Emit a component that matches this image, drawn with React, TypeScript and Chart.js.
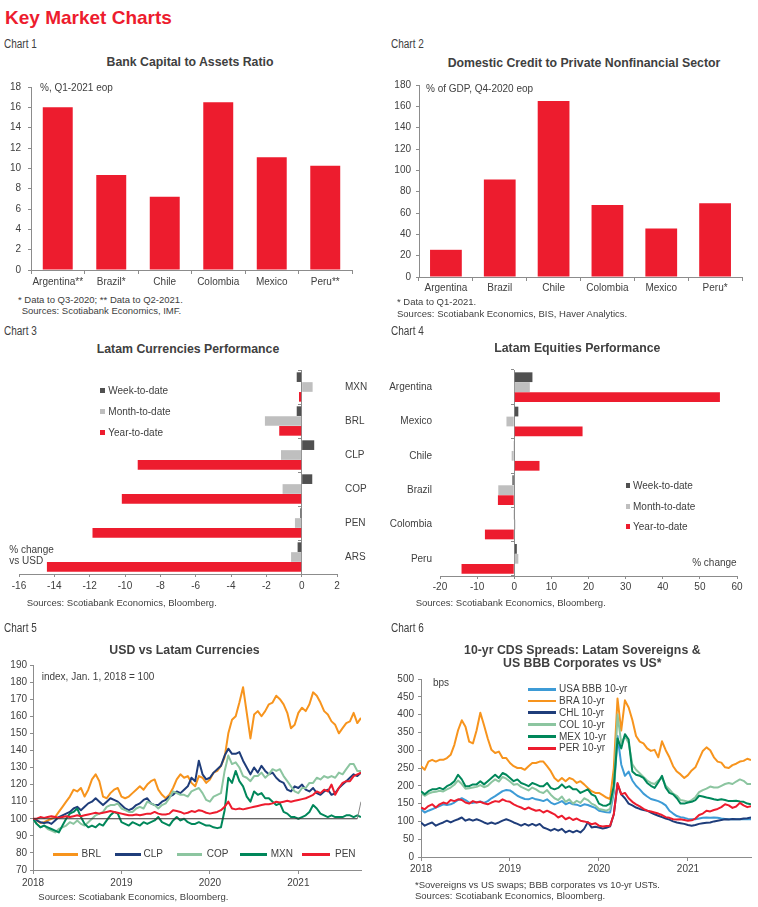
import React, { useEffect, useRef } from "react";
import { Chart, registerables } from "chart.js";

Chart.register(...registerables);

const FONT = "'Liberation Sans', Arial, Helvetica, sans-serif";
const TXT = "#404040";
const AXIS = "#8c8c8c";
const RED = "#ED1C2E";
const DARK = "#505050";
const LIGHT = "#BFBFBF";
const ORANGE = "#F7941D";
const NAVY = "#1F3D7A";
const LGREEN = "#8CC5A0";
const GREEN = "#00875A";
const BLUE = "#3D9BD6";

Chart.defaults.font.family = FONT;

// ---------- Chart 1 ----------
const C1_LABELS = ["Argentina**", "Brazil*", "Chile", "Colombia", "Mexico", "Peru**"];
const C1_VALUES = [16.0, 9.35, 7.2, 16.5, 11.1, 10.25];

// ---------- Chart 2 ----------
const C2_LABELS = ["Argentina", "Brazil", "Chile", "Colombia", "Mexico", "Peru*"];
const C2_VALUES = [25.5, 91.4, 164.9, 67.4, 45.5, 69.2];

// ---------- Chart 3 ----------
const C3_LABELS = ["MXN", "BRL", "CLP", "COP", "PEN", "ARS"];
const C3_WTD = [-0.28, -0.28, 0.71, 0.6, -0.08, -0.23];
const C3_MTD = [0.62, -2.08, -1.17, -1.08, -0.38, -0.6];
const C3_YTD = [-0.15, -1.27, -9.28, -10.18, -11.84, -14.42];

// ---------- Chart 4 ----------
const C4_LABELS = ["Argentina", "Mexico", "Chile", "Brazil", "Colombia", "Peru"];
const C4_WTD = [4.9, 1.1, -0.1, -0.5, -0.1, 0.7];
const C4_MTD = [4.2, -2.1, -0.7, -4.3, 0.3, 1.1];
const C4_YTD = [55.4, 18.4, 6.8, -4.4, -7.9, -14.2];

// ---------- Time axis (half-month steps from Jan 2018) ----------
const HALF_MONTHS = Array.from({ length: 90 }, (_, i) => i / 2);
const YEAR_TICKS = [0, 12, 24, 36];
const YEAR_LABELS = ["2018", "2019", "2020", "2021"];

// ---------- Chart 5 (index, Jan 1 2018 = 100) ----------
const BRL = [
  100, 99, 97.5, 98, 99, 100, 101, 104, 107, 110, 113, 117, 116, 118, 113, 117, 123, 126, 122, 113, 112, 115, 117, 118,
  113, 112, 113, 115, 117, 119, 117, 120, 122, 123, 117, 114, 112, 114, 118, 123, 126, 124, 125, 121, 119, 125, 124, 121,
  123, 127, 128, 131, 136, 150, 158, 160, 168, 177, 162, 147, 161, 163, 160, 163, 167, 168, 172, 170, 167, 162, 153, 155,
  162, 165, 163, 167, 174, 172, 168, 163, 161, 157, 155, 150, 153, 156, 157, 162, 156, 159,
];
const CLP = [
  100, 99, 98, 97.5, 98, 97, 99, 101, 102, 103, 104, 106, 107, 105, 107, 109, 110, 112, 110, 108, 110, 112, 111, 110,
  108, 106, 105, 106, 108, 109, 111, 112, 109, 108, 108, 110, 111, 113, 114, 116, 115, 117, 119, 124, 122, 134, 126, 123,
  124, 127, 129, 131, 137, 141, 138, 138, 139, 134, 130, 126, 130, 127, 131, 128, 126, 127, 124, 122, 121, 117, 116, 119,
  118, 120, 117, 116, 118, 115, 114, 116, 117, 114, 115, 118, 120, 122, 124, 126, 125, 127,
];
const COP = [
  100, 97, 95, 96, 94, 93, 92, 94, 95, 96, 98, 97, 99, 97, 96, 98, 100, 102, 103, 104, 107, 108, 108, 109,
  106, 105, 104, 104, 106, 107, 106, 110, 109, 108, 106, 108, 109, 112, 116, 115, 114, 114, 113, 116, 117, 118, 115, 111,
  110, 113, 114, 115, 128, 137, 132, 133, 130, 125, 124, 122, 125, 125, 127, 124, 126, 129, 128, 129, 125, 122, 119, 116,
  115, 118, 118, 121, 121, 124, 123, 125, 124, 125, 124, 127, 126, 129, 132, 132, 128, 128,
];
const MXN = [
  100, 97, 95, 96, 95, 94, 93, 92, 96, 100, 103, 104, 106, 101, 97, 95, 96, 95, 97, 96, 99, 102, 104, 103,
  98, 97, 96, 98, 97, 96, 98, 97, 98, 99, 101, 98, 97, 96, 99, 101, 99, 100, 98, 97, 97, 98, 97, 96,
  96, 95, 94.5, 95, 105, 124, 121, 128, 122, 119, 113, 110, 116, 114, 115, 112, 112, 110, 108, 109, 104, 103, 101, 101,
  100, 101, 102, 104, 108, 106, 103, 102, 101, 102, 101, 101, 101, 102, 102, 101, 102, 101,
];
const PEN = [
  100, 100, 101, 100.5, 101, 101.5, 101, 100.5, 101, 101.5, 101, 101.5, 102, 101.5, 102, 102.5, 103, 103.5, 103, 103.5, 104, 104.5, 104, 103.5,
  103, 102.5, 102, 102, 102.5, 102, 102.5, 103, 103, 104, 103, 102.5, 102.5, 103, 105, 104.5, 104, 103, 103.5, 104.5, 104, 105, 104.5, 103.5,
  103, 103.5, 104, 105, 107, 110, 106, 105.5, 106, 105.5, 106, 106.5, 107, 107.5, 108, 108.5, 108.5, 109, 110, 109.5, 110, 110.5, 110, 110.5,
  111, 111.5, 112, 113, 114, 116, 115, 117, 116, 120, 114, 118, 121, 122, 122, 125, 126, 127,
];
const BASE_X = [0, 44];
const BASE_Y = [100, 100];
const TAIL_X = [44, 44.5];
const TAIL_Y = [100, 110];

// ---------- Chart 6 (bps) ----------
const USA = [
  134, 125, 130, 134, 139, 143, 148, 146, 148, 153, 160, 165, 160, 153, 152, 154, 156, 152, 157, 165, 171, 178, 185, 188,
  187, 180, 172, 167, 163, 162, 166, 162, 160, 157, 162, 153, 148, 152, 157, 148, 153, 148, 147, 143, 148, 146, 142, 138,
  130, 128, 126, 125, 180, 340, 260, 228, 240, 215, 200, 190, 178, 170, 163, 160, 157, 152, 145, 130, 122, 115, 112, 110,
  107, 106, 106, 108, 110, 111, 110, 111, 110, 108, 107, 106, 107, 106, 106, 107, 106, 106,
];
const BRA = [
  255, 245, 268, 273, 268, 273, 273, 278, 287, 315, 356, 384, 366, 324, 319, 356, 405, 370, 333, 301, 292, 296, 278, 278,
  264, 255, 250, 250, 245, 255, 264, 264, 268, 268, 255, 241, 222, 213, 222, 213, 222, 218, 208, 213, 204, 194, 185, 180,
  180, 174, 167, 163, 250, 445, 355, 440, 420, 385, 340, 324, 319, 305, 298, 301, 280, 325, 300, 280, 255, 240, 232, 222,
  230, 243, 252, 275, 298, 308, 300, 280, 268, 265, 252, 250, 258, 262, 268, 270, 276, 272,
];
const CHL = [
  97, 88, 93, 97, 88, 93, 97, 102, 97, 102, 106, 111, 102, 106, 102, 106, 102, 97, 93, 97, 93, 97, 102, 106,
  102, 97, 93, 88, 93, 88, 93, 88, 93, 83, 79, 74, 79, 74, 79, 69, 74, 69, 74, 69, 79, 98, 83, 85,
  83, 80, 82, 86, 120, 205, 176, 165, 150, 145, 139, 135, 132, 130, 125, 120, 116, 112, 108, 105, 100, 97, 95, 93,
  90, 88, 90, 93, 95, 96, 97, 100, 102, 104, 106, 105, 107, 106, 106, 108, 109, 111,
];
const COL = [
  180, 172, 178, 182, 183, 186, 184, 190, 195, 203, 215, 205, 192, 193, 195, 197, 202, 196, 200, 210, 218, 212, 225, 220,
  212, 203, 205, 197, 192, 187, 195, 190, 183, 180, 188, 175, 165, 160, 170, 155, 162, 150, 158, 152, 165, 160, 150, 145,
  135, 133, 130, 135, 190, 400, 320, 340, 320, 260, 245, 235, 225, 215, 208, 205, 215, 222, 200, 190, 178, 172, 160, 158,
  155, 160, 168, 182, 188, 192, 198, 195, 195, 200, 205, 208, 205, 212, 218, 214, 205, 205,
];
const MEX = [
  185, 176, 185, 190, 190, 194, 190, 199, 204, 213, 231, 218, 199, 199, 204, 204, 213, 204, 213, 222, 231, 222, 236, 231,
  222, 213, 218, 208, 204, 199, 208, 204, 199, 199, 208, 194, 190, 194, 204, 194, 199, 190, 190, 180, 185, 190, 176, 171,
  150, 145, 144, 150, 200, 333, 305, 345, 330, 240, 231, 228, 222, 208, 200, 194, 210, 228, 195, 180, 176, 165, 150, 150,
  153, 155, 160, 172, 170, 167, 165, 162, 160, 162, 160, 157, 157, 158, 156, 155, 150, 148,
];
const PER = [
  139, 134, 143, 148, 139, 148, 153, 150, 160, 157, 162, 160, 153, 150, 157, 153, 155, 151, 148, 153, 157, 155, 162, 157,
  155, 148, 143, 139, 134, 139, 134, 130, 132, 125, 130, 125, 120, 111, 116, 106, 111, 104, 108, 102, 100, 97, 92, 95,
  88, 86, 87, 88, 120, 208, 176, 180, 165, 155, 148, 142, 135, 130, 128, 125, 122, 118, 112, 110, 106, 105, 106, 104,
  102, 103, 108, 118, 122, 130, 128, 132, 135, 140, 148, 145, 138, 142, 152, 145, 140, 143,
];

// ---------- helpers ----------
const tickFont = { family: FONT, size: 10 };
const border = { color: AXIS, width: 1 };
const grid = (tl: number) => ({ drawOnChartArea: false, drawTicks: true, tickLength: tl, color: AXIS, lineWidth: 1 });
const noGrid = { display: false, drawTicks: false };
const fixW = (w: number) => (s: any) => { s.width = w; };
const fixH = (h: number) => (s: any) => { s.height = h; };
const baseOpts = (padding: any) => ({
  animation: false,
  responsive: false,
  events: [],
  layout: { padding },
  plugins: { legend: { display: false }, tooltip: { enabled: false } },
});

function columnConfig(labels: string[], values: number[], yMax: number, step: number, yw: number, barPct: number, xPad: number, yPad: number) {
  return {
    type: "bar",
    data: { labels, datasets: [{ data: values, backgroundColor: RED, barPercentage: barPct, categoryPercentage: 1 }] },
    options: {
      ...baseOpts({ top: 8, right: 8, left: 0, bottom: 0 }),
      scales: {
        x: {
          offset: true,
          grid: { ...grid(4), offset: true },
          border,
          ticks: { font: tickFont, color: TXT, padding: xPad, maxRotation: 0, autoSkip: false },
          afterFit: fixH(22),
        },
        y: {
          min: 0,
          max: yMax,
          grid: grid(3),
          border,
          ticks: { stepSize: step, font: tickFont, color: TXT, padding: yPad },
          afterFit: fixW(yw),
        },
      },
    },
  };
}

function perfConfig(labels: string[], wtd: number[], mtd: number[], ytd: number[], min: number, max: number, step: number, side: "left" | "right", yw: number, padding: any, xPad: number) {
  return {
    type: "bar",
    data: {
      labels,
      datasets: [
        { label: "Week-to-date", data: wtd, backgroundColor: DARK, barPercentage: 0.98, categoryPercentage: 0.87, yAxisID: "y" },
        { label: "Month-to-date", data: mtd, backgroundColor: LIGHT, barPercentage: 0.98, categoryPercentage: 0.87, yAxisID: "y" },
        { label: "Year-to-date", data: ytd, backgroundColor: RED, barPercentage: 0.98, categoryPercentage: 0.87, yAxisID: "y" },
      ],
    },
    options: {
      ...baseOpts(padding),
      indexAxis: "y",
      scales: {
        x: {
          type: "linear",
          min,
          max,
          grid: grid(3),
          border,
          ticks: { stepSize: step, font: tickFont, color: TXT, padding: xPad },
          afterFit: fixH(22),
        },
        y: {
          type: "category",
          position: side,
          offset: true,
          grid: noGrid,
          border: { display: false },
          ticks: { font: tickFont, color: TXT, padding: 8, crossAlign: "near" },
          afterFit: fixW(yw),
        },
        yz: {
          type: "category",
          position: { x: 0 },
          offset: true,
          grid: { ...grid(3), offset: true },
          border,
          ticks: { display: false },
        },
      },
    },
  };
}

const pts = (xs: number[], ys: number[]) => xs.map((x, i) => ({ x, y: ys[i] }));
const lineDs = (ys: number[], color: string, order: number) => ({
  data: pts(HALF_MONTHS, ys),
  borderColor: color,
  backgroundColor: color,
  borderWidth: 2,
  pointRadius: 0,
  tension: 0,
  borderJoinStyle: "round",
  order,
});

function timeConfig(datasets: any[], yMin: number, yMax: number, step: number, yw: number, xPad: number, yPad: number) {
  return {
    type: "line",
    data: { datasets },
    options: {
      ...baseOpts({ top: 8, right: 4, left: 0, bottom: 0 }),
      scales: {
        x: {
          type: "linear",
          min: 0,
          max: 44.5,
          grid: grid(4),
          border,
          afterBuildTicks: (s: any) => { s.ticks = YEAR_TICKS.map((v) => ({ value: v })); },
          ticks: {
            font: tickFont,
            color: TXT,
            padding: xPad,
            maxRotation: 0,
            autoSkip: false,
            callback: (v: any) => { const i = YEAR_TICKS.indexOf(Number(v)); return i >= 0 ? YEAR_LABELS[i] : ""; },
          },
          afterFit: fixH(22),
        },
        y: {
          min: yMin,
          max: yMax,
          grid: grid(3),
          border,
          ticks: { stepSize: step, font: tickFont, color: TXT, padding: yPad },
          afterFit: fixW(yw),
        },
      },
    },
  };
}

// ---------- components ----------
function ChartBox({ x, y, w, h, make }: { x: number; y: number; w: number; h: number; make: () => any }) {
  const ref = useRef<HTMLCanvasElement | null>(null);
  useEffect(() => {
    if (!ref.current) return;
    const chart = new Chart(ref.current, make());
    return () => chart.destroy();
  }, []);
  return <canvas ref={ref} width={w} height={h} style={{ position: "absolute", left: x, top: y, width: w, height: h }} />;
}

function Txt({ x, y, s = 10, b = false, c = TXT, a = "l", n = false, children }: { x: number; y: number; s?: number; b?: boolean; c?: string; a?: string; n?: boolean; children: React.ReactNode }) {
  let tx = a === "c" ? "translateX(-50%)" : a === "r" ? "translateX(-100%)" : "";
  if (n) tx += " scaleX(0.8)";
  return (
    <div
      style={{
        position: "absolute",
        left: x,
        top: y - s * 0.6,
        fontSize: s,
        lineHeight: `${s * 1.2}px`,
        fontWeight: b ? 700 : 400,
        color: c,
        fontFamily: FONT,
        whiteSpace: "nowrap",
        transform: tx || undefined,
        transformOrigin: "left center",
      }}
    >
      {children}
    </div>
  );
}

function Sq({ x, y, c, s = 4.5 }: { x: number; y: number; c: string; s?: number }) {
  return <div style={{ position: "absolute", left: x, top: y - s / 2, width: s, height: s, background: c }} />;
}

function Ln({ x1, x2, y, c }: { x1: number; x2: number; y: number; c: string }) {
  return <div style={{ position: "absolute", left: x1, top: y - 1.25, width: x2 - x1, height: 2.5, background: c }} />;
}

export default function App() {
  return (
    <div style={{ position: "absolute", left: 0, top: 0, width: 758, height: 907, background: "#fff", overflow: "hidden", fontFamily: FONT }}>
      <Txt x={5} y={18.3} s={19} b c={RED}>Key Market Charts</Txt>

      {/* Chart 1 */}
      <Txt x={4} y={44.7} s={12.5} n>Chart 1</Txt>
      <Txt x={190} y={62.3} s={12.3} b a="c">Bank Capital to Assets Ratio</Txt>
      <ChartBox x={0} y={74} w={360} h={218} make={() => columnConfig(C1_LABELS, C1_VALUES, 18, 2, 31, 0.56, 2, 7)} />
      <Txt x={40} y={88.3}>%, Q1-2021 eop</Txt>
      <Txt x={18} y={300} s={9.5}>* Data to Q3-2020; ** Data to Q2-2021.</Txt>
      <Txt x={21.7} y={310.3} s={9.5}>Sources: Scotiabank Economics, IMF.</Txt>

      {/* Chart 2 */}
      <Txt x={390.7} y={44.7} s={12.5} n>Chart 2</Txt>
      <Txt x={584} y={63.3} s={12.3} b a="c">Domestic Credit to Private Nonfinancial Sector</Txt>
      <ChartBox x={379} y={74} w={371} h={225} make={() => columnConfig(C2_LABELS, C2_VALUES, 180, 20, 40, 0.59, 1, 5)} />
      <Txt x={426} y={89.3}>% of GDP, Q4-2020 eop</Txt>
      <Txt x={397} y={301.7} s={9.5}>* Data to Q1-2021.</Txt>
      <Txt x={397} y={313.3} s={9.5}>Sources: Scotiabank Economics, BIS, Haver Analytics.</Txt>

      {/* Chart 3 */}
      <Txt x={4} y={331.7} s={12.5} n>Chart 3</Txt>
      <Txt x={188} y={349.3} s={12.3} b a="c">Latam Currencies Performance</Txt>
      <ChartBox x={0} y={356} w={377} h={240} make={() => perfConfig(C3_LABELS, C3_WTD, C3_MTD, C3_YTD, -16, 2, 2, "right", 40, { top: 6, right: 0, left: 19, bottom: 0 }, 3.5)} />
      <Sq x={100} y={390.7} c={DARK} />
      <Txt x={108.3} y={390.7}>Week-to-date</Txt>
      <Sq x={100} y={411.7} c={LIGHT} />
      <Txt x={108.3} y={411.7}>Month-to-date</Txt>
      <Sq x={100} y={432.7} c={RED} />
      <Txt x={108.3} y={432.7}>Year-to-date</Txt>
      <Txt x={9.3} y={550}>% change</Txt>
      <Txt x={9.3} y={560.7}>vs USD</Txt>
      <Txt x={26.7} y={602.7} s={9.5}>Sources: Scotiabank Economics, Bloomberg.</Txt>

      {/* Chart 4 */}
      <Txt x={390.7} y={331.7} s={12.5} n>Chart 4</Txt>
      <Txt x={577.3} y={348.3} s={12.3} b a="c">Latam Equities Performance</Txt>
      <ChartBox x={380} y={356} w={367} h={242} make={() => perfConfig(C4_LABELS, C4_WTD, C4_MTD, C4_YTD, -20, 60, 10, "left", 60, { top: 6, right: 10, left: 0, bottom: 0 }, 2.7)} />
      <Sq x={625.7} y={485.7} c={DARK} />
      <Txt x={633} y={485.7}>Week-to-date</Txt>
      <Sq x={625.7} y={506.7} c={LIGHT} />
      <Txt x={633} y={506.7}>Month-to-date</Txt>
      <Sq x={625.7} y={526.7} c={RED} />
      <Txt x={633} y={526.7}>Year-to-date</Txt>
      <Txt x={736.7} y={562.7} a="r">% change</Txt>
      <Txt x={415.7} y={602.7} s={9.5}>Sources: Scotiabank Economics, Bloomberg.</Txt>

      {/* Chart 5 */}
      <Txt x={4} y={628.3} s={12.5} n>Chart 5</Txt>
      <Txt x={184.5} y={650.7} s={12.3} b a="c">USD vs Latam Currencies</Txt>
      <ChartBox
        x={0}
        y={656}
        w={365}
        h={236}
        make={() =>
          timeConfig(
            [
              { data: pts(BASE_X, BASE_Y), borderColor: "#333333", borderWidth: 1, pointRadius: 0, order: 0 },
              { data: pts(TAIL_X, TAIL_Y), borderColor: "#888888", borderWidth: 1, pointRadius: 0, order: 0 },
              lineDs(PEN, RED, 1),
              lineDs(MXN, GREEN, 2),
              lineDs(COP, LGREEN, 3),
              lineDs(CLP, NAVY, 4),
              lineDs(BRL, ORANGE, 5),
            ],
            70,
            190,
            10,
            33,
            3.3,
            3
          )
        }
      />
      <Txt x={41.7} y={676.7}>index, Jan. 1, 2018 = 100</Txt>
      <Ln x1={52.7} x2={78.3} y={854.3} c={ORANGE} />
      <Txt x={81.5} y={854.3}>BRL</Txt>
      <Ln x1={115} x2={140.5} y={854.3} c={NAVY} />
      <Txt x={143.5} y={854.3}>CLP</Txt>
      <Ln x1={176.7} x2={202} y={854.3} c={LGREEN} />
      <Txt x={206.7} y={854.3}>COP</Txt>
      <Ln x1={240} x2={266.7} y={854.3} c={GREEN} />
      <Txt x={270.7} y={854.3}>MXN</Txt>
      <Ln x1={301.7} x2={330} y={854.3} c={RED} />
      <Txt x={335} y={854.3}>PEN</Txt>
      <Txt x={38.3} y={896.7} s={9.5}>Sources: Scotiabank Economics, Bloomberg.</Txt>

      {/* Chart 6 */}
      <Txt x={390.7} y={628.3} s={12.5} n>Chart 6</Txt>
      <Txt x={582.3} y={650} s={12.3} b a="c">10-yr CDS Spreads: Latam Sovereigns &amp;</Txt>
      <Txt x={582.3} y={663.7} s={12.3} b a="c">US BBB Corporates vs US*</Txt>
      <ChartBox
        x={381}
        y={669}
        w={374}
        h={210}
        make={() =>
          timeConfig(
            [
              lineDs(PER, RED, 1),
              lineDs(MEX, GREEN, 2),
              lineDs(COL, LGREEN, 3),
              lineDs(CHL, NAVY, 4),
              lineDs(BRA, ORANGE, 5),
              lineDs(USA, BLUE, 6),
            ],
            0,
            500,
            50,
            40,
            2.3,
            4
          )
        }
      />
      <Txt x={433} y={683.3}>bps</Txt>
      <Ln x1={528.3} x2={555.7} y={689.3} c={BLUE} />
      <Txt x={559} y={689.3}>USA BBB 10-yr</Txt>
      <Ln x1={528.3} x2={555.7} y={700.9} c={ORANGE} />
      <Txt x={559} y={700.9}>BRA 10-yr</Txt>
      <Ln x1={528.3} x2={555.7} y={712.5} c={NAVY} />
      <Txt x={559} y={712.5}>CHL 10-yr</Txt>
      <Ln x1={528.3} x2={555.7} y={724.5} c={LGREEN} />
      <Txt x={559} y={724.5}>COL 10-yr</Txt>
      <Ln x1={528.3} x2={555.7} y={736.5} c={GREEN} />
      <Txt x={559} y={736.5}>MEX 10-yr</Txt>
      <Ln x1={528.3} x2={555.7} y={748.3} c={RED} />
      <Txt x={559} y={748.3}>PER 10-yr</Txt>
      <Txt x={415} y={885} s={9.5}>*Sovereigns vs US swaps; BBB corporates vs 10-yr USTs.</Txt>
      <Txt x={415} y={895.7} s={9.5}>Sources: Scotiabank Economics, Bloomberg.</Txt>
    </div>
  );
}
